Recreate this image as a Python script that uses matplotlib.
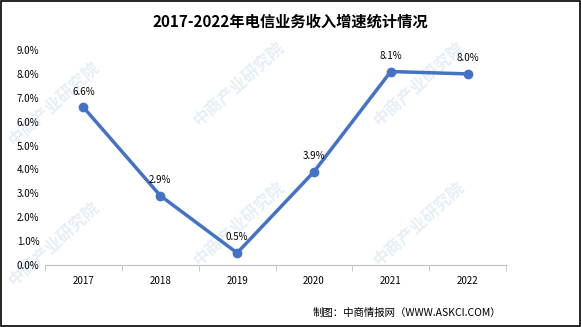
import numpy as np
import matplotlib.pyplot as plt

plt.rcParams['font.family'] = ['Noto Sans CJK SC', 'DejaVu Sans']

years = ["2017", "2018", "2019", "2020", "2021", "2022"]
growth = [6.6, 2.9, 0.5, 3.9, 8.1, 8.0]
yticks = [0, 1, 2, 3, 4, 5, 6, 7, 8, 9]

fig = plt.figure(figsize=(5.81, 3.27), dpi=100)
ax = fig.add_axes([0.0775, 0.19, 0.7935, 0.657])
ax.set_zorder(2)

# faint watermark, pixel positions of the lower-left start
W, H = 581, 327
for px, py in [(5, 150), (5, 290), (190, 130), (190, 270), (370, 130), (370, 270)]:
    fig.text(px / W, 1 - py / H, "中商产业研究院", color='#e6eff7', fontsize=12, rotation=42,
             ha='left', va='bottom', fontweight='bold', zorder=-1)

x = np.arange(len(years))
ax.plot(x, growth, color='#4472C4', lw=2.5, marker='o', ms=6, zorder=3)
for xi, v in zip(x, growth):
    ax.text(xi, v + 0.45, f"{v:.1f}%", ha='center', va='bottom', fontsize=7)

ax.set_xlim(-0.5, len(years) - 0.5)
ax.set_ylim(0, 9)
ax.set_yticks(yticks)
ax.set_yticklabels([f"{t:.1f}%" for t in yticks], fontsize=7)
ax.set_xticks(x)
ax.set_xticklabels(years, fontsize=7)
ax.set_xticks(np.arange(-0.5, len(years)), minor=True)
ax.tick_params(axis='x', which='major', length=0, pad=8)
ax.tick_params(axis='x', which='minor', length=4, color='#bfbfbf')
ax.tick_params(axis='y', length=0, pad=4)
for s in ['top', 'right', 'left']:
    ax.spines[s].set_visible(False)
ax.spines['bottom'].set_color('#bfbfbf')
ax.patch.set_alpha(0)

fig.text(0.5, 0.935, "2017-2022年电信业务收入增速统计情况", ha='center', va='center',
         fontsize=11, fontweight='bold')
fig.text(0.862, 0.043, "制图：中商情报网（WWW.ASKCI.COM）", ha='right', va='center', fontsize=7.5)

fig.patches.append(plt.Rectangle((0.001, 0.002), 0.997, 0.995, transform=fig.transFigure,
                                 fill=False, edgecolor='black', lw=1.2))

fig.savefig("out.png", dpi=100)
